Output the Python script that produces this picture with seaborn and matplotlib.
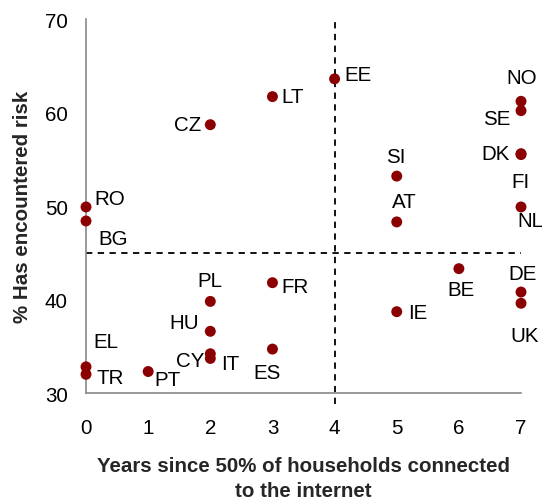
import matplotlib
matplotlib.use("Agg")
import matplotlib.pyplot as plt
import seaborn as sns
import pandas as pd

# --- data ---
countries = ["RO", "BG", "CZ", "LT", "EE", "NO", "SE", "DK", "FI", "NL",
             "SI", "AT", "PL", "HU", "CY", "IT", "FR", "ES", "EL", "TR",
             "PT", "BE", "IE", "DE", "UK"]
years = [0, 0, 2, 3, 4, 7, 7, 7, 7, 7,
         5, 5, 2, 2, 2, 2, 3, 3, 0, 0,
         1, 6, 5, 7, 7]
risk = [49.9, 48.4, 58.7, 61.7, 63.6, 61.2, 60.2, 55.6, 55.5, 49.9,
        53.2, 48.3, 39.8, 36.6, 34.2, 33.7, 41.8, 34.7, 32.8, 32.0,
        32.3, 43.3, 38.7, 40.8, 39.6]

x_split = 4
y_split = 45

# label placement (pixels from the dot, ha)
label_pos = {
    "RO": (8, 8, "left"), "BG": (12, -18, "left"), "CZ": (-9, 0, "right"),
    "LT": (9, 0, "left"), "EE": (10, 4, "left"), "NO": (1, 24, "center"),
    "SE": (-11, -8, "right"), "DK": (-11, 0, "right"), "FI": (-1, -27, "center"),
    "NL": (-4, -14, "left"), "SI": (-1, 20, "center"), "AT": (-5, 20, "left"),
    "PL": (0, 21, "center"), "HU": (-11, 9, "right"), "CY": (-6, -7, "right"),
    "IT": (11, -5, "left"), "FR": (9, -4, "left"), "ES": (-5, -23, "center"),
    "EL": (7, 25, "left"), "TR": (10, -3, "left"), "PT": (6, -8, "left"),
    "BE": (2, -21, "center"), "IE": (11, -1, "left"), "DE": (2, 19, "center"),
    "UK": (4, -32, "center"),
}

df = pd.DataFrame({"country": countries, "years": years, "risk": risk})

sns.set_style("white")
plt.rcParams["font.family"] = ["Liberation Sans", "DejaVu Sans"]
FS = 14.8

fig = plt.figure(figsize=(5.42, 5.02), dpi=100)
ax = fig.add_axes([0.1587, 0.2151, 0.8026, 0.7450])

sns.scatterplot(data=df, x="years", y="risk", ax=ax, color="#8B0000",
                s=62, edgecolor="none", clip_on=False, zorder=3)

for c, xv, yv in zip(countries, years, risk):
    dx, dy, ha = label_pos[c]
    ax.annotate(c, (xv, yv), xytext=(dx, dy), textcoords="offset pixels",
                ha=ha, va="center", fontsize=FS, color="black")

ax.axhline(y_split, color="black", lw=1.3, ls=(0, (3.5, 3)), zorder=2)
ax.axvline(x_split, ymin=-0.03, ymax=1, color="black", lw=1.3,
           ls=(0, (3.5, 3)), clip_on=False, zorder=2)

ax.set_xlim(0, 7)
ax.set_ylim(30, 70)
ax.set_xticks(range(0, 8))
ax.set_yticks(range(30, 71, 10))

sns.despine(ax=ax)
for sp in ["left", "bottom"]:
    ax.spines[sp].set_color("#888888")
    ax.spines[sp].set_linewidth(1.2)
ax.tick_params(axis="both", colors="#888888", labelcolor="black",
               labelsize=FS, length=5, width=1.2, direction="out")
ax.tick_params(axis="x", pad=13)
ax.tick_params(axis="y", pad=8)

ax.set_xlabel("Years since 50% of households connected\nto the internet",
              fontsize=FS, fontweight="bold", labelpad=14, linespacing=1.4)
ax.set_ylabel("% Has encountered risk", fontsize=FS, fontweight="bold",
              labelpad=9)

fig.savefig("out.png", dpi=100)
